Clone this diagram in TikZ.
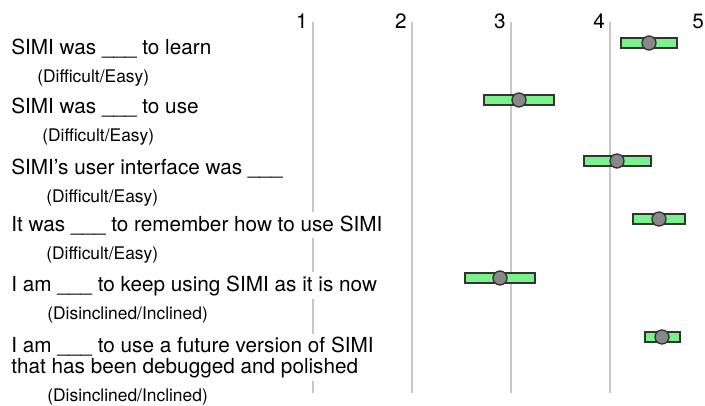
\documentclass[tikz,border=0pt]{standalone}
\usepackage{fontspec}
\setmainfont{TeX Gyre Heros}
\usepackage{xcolor}
\usepackage{tikz}
\definecolor{bargreen}{RGB}{122,242,140}
\definecolor{meangray}{RGB}{136,136,136}
\definecolor{axisgray}{RGB}{200,200,200}

\begin{document}
\begin{tikzpicture}[x=0.02cm,y=-0.02cm,
	axisline/.style={draw=axisgray,line width=0.85pt},
	ticklabel/.style={anchor=base,inner sep=0pt,font=\fontsize{11.8}{12}\selectfont},
	question/.style={anchor=base west,fill=white,inner xsep=0pt,inner ysep=2pt,align=left,font=\fontsize{11.8}{12}\selectfont},
	scalename/.style={anchor=base west,inner sep=0pt,font=\fontsize{9.9}{11}\selectfont},
	rangebar/.style={draw=black!80,fill=bargreen,line width=0.75pt},
	meandot/.style={circle,draw=black!80,fill=meangray,line width=0.75pt,minimum size=0.28cm,inner sep=0pt}]
 \useasboundingbox (0,0) rectangle (705,405);
 \draw[axisline]
	%	vertical
		(313,22) -- (313,393)
		(412,22) -- (412,393)
		(511,22) -- (511,393)
		(610,22) -- (610,393);
 \path
	%	nodes for the scale
		(302,29) node[ticklabel] (t1) {1}
		(401,29) node[ticklabel] (t2) {2}
		(500,29) node[ticklabel] (t3) {3}
		(599,29) node[ticklabel] (t4) {4}
		(698,29) node[ticklabel] (t5) {5}
	%	nodes for the statements
		(11,55) node[question] (q1) {SIMI was \_\_\_ to learn}
			(37,83) node[scalename] (s1) {(Difficult/Easy)}
		(11,114) node[question] (q2) {SIMI was \_\_\_ to use}
			(42,141) node[scalename] (s2) {(Difficult/Easy)}
		(11,174) node[question] (q3) {SIMI's user interface was \_\_\_}
			(46,202) node[scalename] (s3) {(Difficult/Easy)}
		(11,231) node[question] (q4) {It was \_\_\_ to remember how to use SIMI}
			(46,259) node[scalename] (s4) {(Difficult/Easy)}
		(11,291) node[question] (q5) {I am \_\_\_ to keep using SIMI as it is now}
			(47,319) node[scalename] (s5) {(Disinclined/Inclined)}
		(11,373) node[question] (q6) {I am \_\_\_ to use a future version of SIMI\\[-0.5pt]that has been debugged and polished}
			(47,401) node[scalename] (s6) {(Disinclined/Inclined)};
	%	ranges and means
 \draw[rangebar] (621,38) rectangle (677,48);
 \node[meandot] (m1) at (649,43) {};
 \draw[rangebar] (484,95) rectangle (554,105);
 \node[meandot] (m2) at (519,100) {};
 \draw[rangebar] (584,156) rectangle (651,166);
 \node[meandot] (m3) at (617,161) {};
 \draw[rangebar] (633,214) rectangle (685,224);
 \node[meandot] (m4) at (659,219) {};
 \draw[rangebar] (465,273) rectangle (535,283);
 \node[meandot] (m5) at (500,278) {};
 \draw[rangebar] (645,332) rectangle (680,342);
 \node[meandot] (m6) at (662,337) {};
\end{tikzpicture}
\end{document}
